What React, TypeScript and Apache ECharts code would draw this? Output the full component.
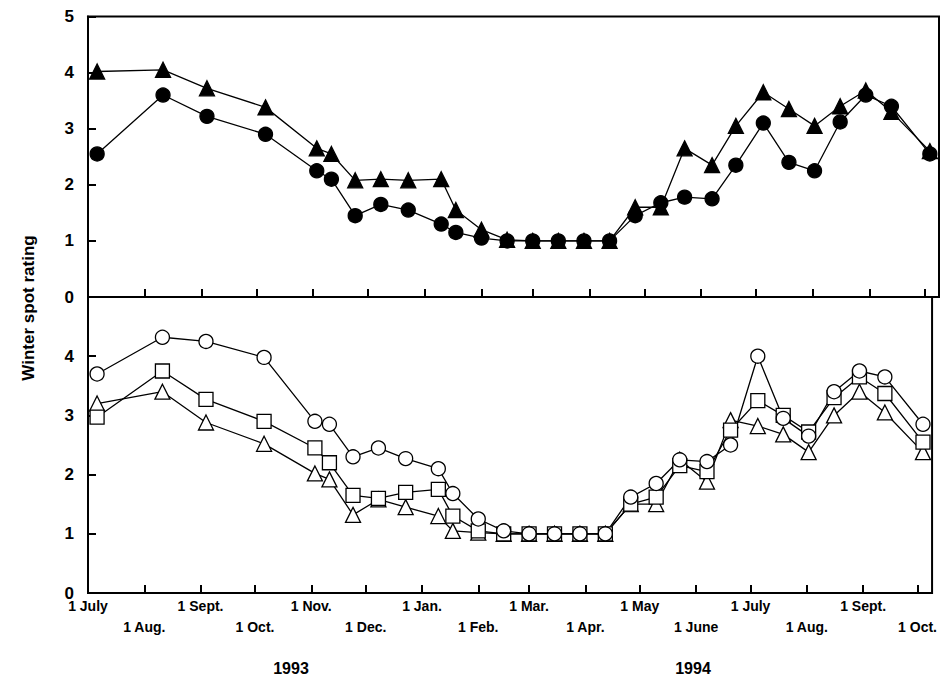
import React, { useEffect, useRef } from "react";
import * as echarts from "echarts";

const days = [5, 41, 65, 97, 125, 133, 146, 160, 175, 193, 201, 215, 229, 243, 257, 271, 285, 299, 313, 326, 341, 354, 369, 383, 397, 411, 425, 439, 460];
const topTriangles = [4.02, 4.05, 3.72, 3.38, 2.65, 2.55, 2.08, 2.1, 2.08, 2.1, 1.55, 1.2, 1.02, 1.0, 1.0, 1.0, 1.0, 1.6, 1.6, 2.65, 2.35, 3.05, 3.65, 3.35, 3.05, 3.4, 3.68, 3.3, 2.6];
const topCircles = [2.55, 3.6, 3.22, 2.9, 2.25, 2.1, 1.45, 1.65, 1.55, 1.3, 1.15, 1.05, 1.0, 1.0, 1.0, 1.0, 1.0, 1.45, 1.68, 1.78, 1.75, 2.35, 3.1, 2.4, 2.25, 3.12, 3.6, 3.4, 2.55];
const botCircles = [3.7, 4.32, 4.25, 3.98, 2.9, 2.85, 2.3, 2.45, 2.27, 2.1, 1.68, 1.25, 1.05, 1.0, 1.0, 1.0, 1.0, 1.62, 1.85, 2.25, 2.22, 2.5, 4.0, 2.95, 2.65, 3.4, 3.75, 3.65, 2.85];
const botSquares = [2.97, 3.75, 3.27, 2.9, 2.45, 2.2, 1.65, 1.6, 1.7, 1.75, 1.3, 1.05, 1.0, 1, 1, 1, 1, 1.5, 1.62, 2.15, 2.05, 2.75, 3.25, 3.0, 2.72, 3.3, 3.65, 3.37, 2.55];
const botTriangles = [3.2, 3.4, 2.88, 2.52, 2.02, 1.92, 1.32, 1.58, 1.45, 1.3, 1.05, 1.02, 1.0, 1, 1, 1, 1, 1.5, 1.5, 2.25, 1.88, 2.92, 2.82, 2.68, 2.38, 3.0, 3.4, 3.05, 2.38];

const monthDays = [0, 31, 62, 92, 123, 153, 184, 215, 243, 274, 304, 335, 365, 396, 427, 457];
const monthLabels = ["1 July", "1 Aug.", "1 Sept.", "1 Oct.", "1 Nov.", "1 Dec.", "1 Jan.", "1 Feb.", "1 Mar.", "1 Apr.", "1 May", "1 June", "1 July", "1 Aug.", "1 Sept.", "1 Oct."];
const years = ["1993", "1994"];

const FONT = "Liberation Sans";

export default function App() {
  const ref = useRef<HTMLDivElement>(null);
  useEffect(() => {
    const chart = echarts.init(ref.current!, null, { renderer: "svg" });
    const lbl = (v: number) => {
      const i = monthDays.indexOf(Math.round(v));
      return i >= 0 ? monthLabels[i] : "";
    };
    const row1 = monthDays.filter((_, i) => i % 2 === 0);
    const row2 = monthDays.filter((_, i) => i % 2 === 1);
    const xBase = {
      type: "value", min: 0, max: 465, position: "bottom",
      splitLine: { show: false },
      axisLine: { lineStyle: { color: "#000", width: 2 } },
      axisTick: { inside: true, length: 8, lineStyle: { color: "#000", width: 2 }, customValues: monthDays },
    };
    const yBase = {
      type: "value", min: 0, max: 5, interval: 1,
      splitLine: { show: false },
      axisLine: { show: true, lineStyle: { color: "#000", width: 2 } },
      axisTick: { inside: true, length: 8, lineStyle: { color: "#000", width: 2 } },
      axisLabel: { color: "#000", fontFamily: FONT, fontWeight: "bold", fontSize: 17, margin: 14 },
    };
    const mk = (data: number[], sym: string, filled: boolean, xi: number, yi: number, size: number) => ({
      type: "line", xAxisIndex: xi, yAxisIndex: yi,
      data: days.map((d, i) => [d, data[i]]),
      symbol: sym, symbolSize: size, showAllSymbol: true,
      lineStyle: { color: "#000", width: 1.3 },
      itemStyle: { color: filled ? "#000" : "#fff", borderColor: "#000", borderWidth: 1.3 },
      z: filled ? 3 : 4,
    });
    chart.setOption({
      animation: false,
      grid: [
        { left: 80, top: 6, width: 851, height: 283, show: true, borderColor: "#000", borderWidth: 2 },
        { left: 80, top: 289, width: 851, height: 296, show: true, borderColor: "#000", borderWidth: 2 },
      ],
      xAxis: [
        { ...xBase, gridIndex: 0, axisLabel: { show: false } },
        { ...xBase, gridIndex: 1, axisLabel: { customValues: row1, formatter: lbl, color: "#000", fontFamily: FONT, fontWeight: "bold", fontSize: 14, margin: 6 } },
        { ...xBase, gridIndex: 1, axisLine: { show: false }, axisTick: { show: false }, axisLabel: { customValues: row2, formatter: lbl, color: "#000", fontFamily: FONT, fontWeight: "bold", fontSize: 14, margin: 27 } },
      ],
      yAxis: [
        { ...yBase, gridIndex: 0 },
        { ...yBase, gridIndex: 1, axisLabel: { ...yBase.axisLabel, formatter: (v: number) => (v === 5 ? "" : String(v)) } },
      ],
      graphic: [
        { type: "text", x: 20, y: 300, rotation: Math.PI / 2, style: { text: "Winter spot rating", fontFamily: FONT, fontWeight: "bold", fontSize: 17, fill: "#000", align: "center", verticalAlign: "middle" } },
        { type: "text", x: 283, y: 660, style: { text: years[0], fontFamily: FONT, fontWeight: "bold", fontSize: 16, fill: "#000", align: "center", verticalAlign: "middle" } },
        { type: "text", x: 685, y: 660, style: { text: years[1], fontFamily: FONT, fontWeight: "bold", fontSize: 16, fill: "#000", align: "center", verticalAlign: "middle" } },
      ],
      series: [
        mk(topCircles, "circle", true, 0, 0, 14),
        mk(topTriangles, "triangle", true, 0, 0, 15),
        mk(botTriangles, "triangle", false, 1, 1, 15),
        mk(botSquares, "rect", false, 1, 1, 14),
        mk(botCircles, "circle", false, 1, 1, 14),
      ],
    });
    return () => chart.dispose();
  }, []);
  return <div ref={ref} style={{ width: 932, height: 667 }} />;
}
